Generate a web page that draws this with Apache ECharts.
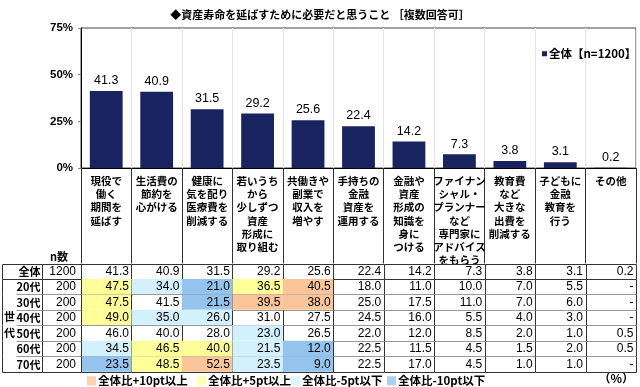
<!DOCTYPE html>
<html>
<head>
<meta charset="utf-8">
<script src="https://cdn.jsdelivr.net/npm/echarts@6/dist/echarts.min.js"></script>
<style>html,body{margin:0;padding:0;background:#fff}#c{width:640px;height:387px}</style>
</head>
<body>
<div id="c"></div>
<script>
// ---------- data ----------
const categories = [
  '現役で\n働く\n期間を\n延ばす',
  '生活費の\n節約を\n心がける',
  '健康に\n気を配り\n医療費を\n削減する',
  '若いうち\nから\n少しずつ\n資産\n形成に\n取り組む',
  '共働きや\n副業で\n収入を\n増やす',
  '手持ちの\n金融\n資産を\n運用する',
  '金融や\n資産\n形成の\n知識を\n身に\nつける',
  'ファイナン\nシャル・\nプランナー\nなど\n専門家に\nアドバイス\nをもらう',
  '教育費\nなど\n大きな\n出費を\n削減する',
  '子どもに\n金融\n教育を\n行う',
  'その他'
];
const overall = [41.3, 40.9, 31.5, 29.2, 25.6, 22.4, 14.2, 7.3, 3.8, 3.1, 0.2];
const age20 = [47.5, 34.0, 21.0, 36.5, 40.5, 18.0, 11.0, 10.0, 7.0, 5.5, null];
const age30 = [47.5, 41.5, 21.5, 39.5, 38.0, 25.0, 17.5, 11.0, 7.0, 6.0, null];
const age40 = [49.0, 35.0, 26.0, 31.0, 27.5, 24.5, 16.0, 5.5, 4.0, 3.0, null];
const age50 = [46.0, 40.0, 28.0, 23.0, 26.5, 22.0, 12.0, 8.5, 2.0, 1.0, 0.5];
const age60 = [34.5, 46.5, 40.0, 21.5, 12.0, 22.5, 11.5, 4.5, 1.5, 2.0, 0.5];
const age70 = [23.5, 48.5, 52.5, 23.5, 9.0, 22.5, 17.0, 4.5, 1.0, 1.0, null];
const rowNames = ['全体', '20代', '30代', '40代', '50代', '60代', '70代'];
const nCounts = [1200, 200, 200, 200, 200, 200, 200];
const yTicks = [0, 25, 50, 75];
const legendNames = ['全体比+10pt以上', '全体比+5pt以上', '全体比-5pt以下', '全体比-10pt以下'];
const seriesName = '全体【n=1200】';

// ---------- styles ----------
const NAVY = '#18235f';
const ORANGE = '#fbc59a', YELLOW = '#ffff99', CYAN = '#d3f1fc', BLUE = '#94c4ee';
const legendColors = [ORANGE, YELLOW, CYAN, BLUE];
const legendLefts = [82, 192, 286, 382];
const JP = "'Noto Sans CJK JP', sans-serif";
const NUM = "'Liberation Sans', 'Noto Sans CJK JP', sans-serif";
const DARK = '#333', LIGHT = '#9a9a9a';

const tableRows = [overall, age20, age30, age40, age50, age60, age70];

function cellColor(r, c) {
  if (r === 0) return null;
  const v = tableRows[r][c];
  if (v == null) return null;
  const d = Math.round((v - overall[c]) * 10) / 10;
  if (d >= 10) return ORANGE;
  if (d >= 5) return YELLOW;
  if (d <= -10) return BLUE;
  if (d <= -5) return CYAN;
  return null;
}
const px = v => Math.round(v) + 0.5;
function line(x1, y1, x2, y2, color) {
  return { type: 'line', shape: { x1: x1, y1: y1, x2: x2, y2: y2 }, style: { stroke: color, lineWidth: 1 } };
}

const tableData = [];
tableRows.forEach((row, r) => row.forEach((v, c) => tableData.push([c, r])));
const headData = [];
rowNames.forEach((n, r) => { headData.push([0, r]); headData.push([1, r]); });

function renderCell(params, api) {
  const c = api.value(0), r = api.value(1);
  const ctr = api.coord([c, r]);
  const s = api.size([1, 1]);
  const x0 = ctr[0] - s[0] / 2, y0 = ctr[1] - s[1] / 2, w = s[0], h = s[1];
  const v = tableRows[r][c];
  const children = [];
  const fill = cellColor(r, c);
  if (fill) children.push({ type: 'rect', shape: { x: x0, y: y0, width: w, height: h }, style: { fill: fill } });
  children.push({ type: 'text', style: { text: v == null ? '-' : v.toFixed(1), x: x0 + w - 2.5, y: ctr[1] + 0.5,
    align: 'right', verticalAlign: 'middle', fontSize: 12, fontFamily: NUM, fill: '#000' } });
  const L = px(x0), R = px(x0 + w), T = px(y0), B = px(y0 + h);
  children.push(line(R, T, R, B, DARK));
  if (c === 0) children.push(line(L, T, L, B, DARK));
  if (r === 0) children.push(line(L, T, R, T, DARK));
  children.push(line(L, B, R, B, (r === 0 || r === 6) ? DARK : LIGHT));
  return { type: 'group', children: children };
}

function renderHead(params, api) {
  const c = api.value(0), r = api.value(1);
  const ctr = api.coord([c, r]);
  const s = api.size([1, 1]);
  const x0 = ctr[0] - s[0] / 2, y0 = ctr[1] - s[1] / 2, w = s[0], h = s[1];
  const children = [];
  const txt = c === 0 ? rowNames[r] : String(nCounts[r]);
  children.push({ type: 'text', style: { text: txt, x: x0 + w - (c === 0 ? 1 : 5), y: ctr[1] + 0.5,
    align: 'right', verticalAlign: 'middle', fontSize: c === 0 ? 11 : 12, fontWeight: c === 0 ? 'bold' : 'normal',
    fontFamily: c === 0 ? JP : NUM, fill: '#000' } });
  const L = px(x0), R = px(x0 + w), T = px(y0), B = px(y0 + h);
  children.push(line(R, T, R, B, DARK));
  if (c === 0) children.push(line(L, T, L, B, DARK));
  if (r === 0) children.push(line(L, T, R, T, DARK));
  let bx = L;
  if (c === 0 && r > 0 && r < 6) bx = px(x0 + 14);
  children.push(line(bx, B, R, B, (r === 0 || r === 6) ? DARK : LIGHT));
  return { type: 'group', children: children };
}

const chart = echarts.init(document.getElementById('c'), null, { renderer: 'canvas' });
const TABLE_TOP = 263.5, ROW_H = 15.45;

const option = {
  animation: false,
  backgroundColor: '#fff',
  title: {
    text: '◆資産寿命を延ばすために必要だと思うこと ［複数回答可］',
    left: 'center', top: 4,
    textStyle: { fontSize: 11, fontWeight: 'bold', fontFamily: JP, color: '#000' }
  },
  legend: [
    {
      data: [seriesName], left: 537, top: 43, icon: 'rect', itemWidth: 5, itemHeight: 5, itemGap: 4,
      textStyle: { fontSize: 11.5, fontWeight: 'bold', fontFamily: JP, color: '#000', padding: [0, 0, 0, -3] }
    }
  ].concat(legendNames.map((n, i) => ({
    data: [n], left: legendLefts[i], top: 370, icon: 'rect', itemWidth: 9, itemHeight: 9, selectedMode: false,
    textStyle: { fontSize: 11.5, fontWeight: 'bold', fontFamily: JP, color: '#000', padding: [0, 0, 0, -3] }
  }))),
  grid: [
    { left: 81, right: 4, top: 28, height: 140, show: true, borderColor: '#444', borderWidth: 1 },
    { left: 81, right: 4, top: TABLE_TOP, height: ROW_H * 7 },
    { left: 2, width: 79, top: TABLE_TOP, height: ROW_H * 7 }
  ],
  xAxis: [
    {
      type: 'category', gridIndex: 0, data: categories,
      axisLine: { lineStyle: { color: '#000', width: 1 } },
      axisTick: { show: true, interval: 0, length: 95.5, lineStyle: { color: DARK } },
      splitLine: { show: true, interval: 0, lineStyle: { color: '#e4e4e4' } },
      axisLabel: { interval: 0, margin: 6, fontSize: 10.5, fontWeight: 'bold', lineHeight: 13.3,
        fontFamily: JP, color: '#000', verticalAlign: 'top' }
    },
    { type: 'category', gridIndex: 1, data: categories, show: false },
    { type: 'category', gridIndex: 2, data: ['label', 'n'], show: false }
  ],
  yAxis: [
    {
      type: 'value', gridIndex: 0, min: yTicks[0], max: yTicks[yTicks.length - 1], interval: 25,
      axisLine: { show: true, lineStyle: { color: '#000' } },
      axisTick: { show: true, length: 3, lineStyle: { color: '#888' } },
      splitLine: { show: false },
      axisLabel: { formatter: '{value}%', fontSize: 11.5, fontWeight: 'bold', fontFamily: NUM, color: '#000', margin: 8 }
    },
    { type: 'category', gridIndex: 1, data: rowNames, inverse: true, show: false },
    { type: 'category', gridIndex: 2, data: rowNames, inverse: true, show: false }
  ],
  series: [
    {
      name: seriesName, type: 'bar', xAxisIndex: 0, yAxisIndex: 0, data: overall, barWidth: '65%',
      itemStyle: { color: NAVY },
      label: { show: true, position: 'top', distance: 4, fontSize: 12.5, fontFamily: NUM, color: '#000',
        formatter: p => p.value.toFixed(1) }
    },
    { type: 'custom', xAxisIndex: 1, yAxisIndex: 1, data: tableData, renderItem: renderCell, silent: true },
    { type: 'custom', xAxisIndex: 2, yAxisIndex: 2, data: headData, renderItem: renderHead, silent: true }
  ].concat(legendNames.map((n, i) => ({
    name: n, type: 'scatter', xAxisIndex: 1, yAxisIndex: 1, data: [], itemStyle: { color: legendColors[i] }
  }))),
  graphic: [
    { type: 'text', left: 50, top: 251, style: { text: 'n数', fontSize: 11, fontWeight: 'bold', fontFamily: JP, fill: '#000' } },
    { type: 'text', left: 4, top: 309, style: { text: '世\n代', fontSize: 11, lineHeight: 16, fontWeight: 'bold', fontFamily: JP, fill: '#000' } },
    { type: 'text', right: 6, top: 372, style: { text: '（%）', fontSize: 12, fontWeight: 'bold', fontFamily: JP, fill: '#000' } }
  ]
};
chart.setOption(option);
</script>
</body>
</html>
